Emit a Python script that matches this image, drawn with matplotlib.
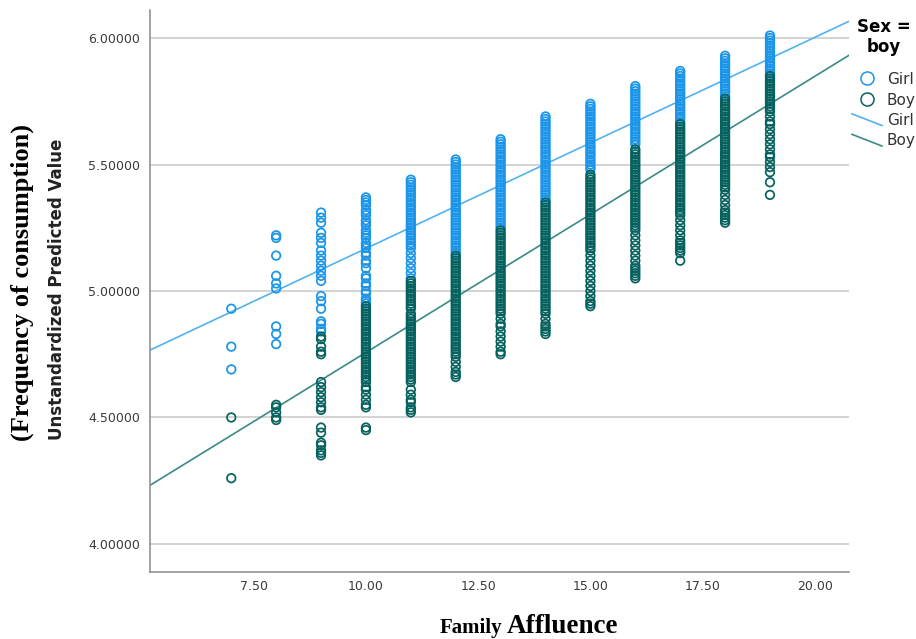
import matplotlib
matplotlib.use("Agg")
import matplotlib.pyplot as plt
from matplotlib.lines import Line2D
from matplotlib.legend_handler import HandlerBase

# ---------------- data ----------------
affluence = [7, 8, 9, 10, 11, 12, 13, 14, 15, 16, 17, 18, 19]

girl_7 = [4.93, 4.78, 4.69]
boy_7 = [4.50, 4.26]
girl_8 = [5.22, 5.21, 5.14, 5.06, 5.03, 5.01, 4.86, 4.83, 4.79]
boy_8 = [4.55, 4.54, 4.52, 4.50, 4.49]
girl_9 = [5.31, 5.29, 5.27, 5.23, 5.21, 5.19, 5.16, 5.14, 5.12, 5.10, 5.08, 5.06, 5.04,
          4.98, 4.96, 4.93, 4.88, 4.87, 4.85, 4.84]
boy_9 = [4.82, 4.81, 4.78, 4.76, 4.75, 4.64, 4.62, 4.60, 4.58, 4.56, 4.54, 4.53, 4.46,
         4.44, 4.40, 4.39, 4.37, 4.36, 4.35]
girl_10 = [5.37, 5.36, 5.35, 5.34, 5.32, 5.31, 5.30, 5.28, 5.27, 5.26, 5.24, 5.23, 5.22,
           5.21, 5.19, 5.18, 5.17, 5.15, 5.14, 5.12, 5.11, 5.09, 5.06, 5.05, 5.03, 5.02,
           5.00, 4.99, 4.97, 4.96, 4.95]
boy_10 = [4.94, 4.93, 4.92, 4.91, 4.90, 4.89, 4.88, 4.87, 4.86, 4.85, 4.84, 4.83, 4.82,
          4.81, 4.80, 4.79, 4.78, 4.77, 4.76, 4.75, 4.74, 4.73, 4.72, 4.71, 4.70, 4.69,
          4.68, 4.67, 4.66, 4.65, 4.64, 4.62, 4.61, 4.59, 4.57, 4.55, 4.54, 4.46, 4.45]
girl_11 = [5.44, 5.43, 5.42, 5.41, 5.40, 5.39, 5.38, 5.37, 5.36, 5.35, 5.34, 5.33, 5.32,
           5.31, 5.30, 5.29, 5.28, 5.27, 5.26, 5.25, 5.24, 5.23, 5.22, 5.21, 5.20, 5.19,
           5.18, 5.17, 5.15, 5.13, 5.11, 5.09, 5.07, 5.05]
boy_11 = [5.04, 5.03, 5.02, 5.01, 5.00, 4.99, 4.98, 4.97, 4.96, 4.95, 4.94, 4.93, 4.91,
          4.90, 4.89, 4.88, 4.87, 4.86, 4.85, 4.84, 4.83, 4.82, 4.81, 4.80, 4.79, 4.78,
          4.77, 4.76, 4.75, 4.74, 4.73, 4.72, 4.71, 4.70, 4.69, 4.68, 4.67, 4.66, 4.65,
          4.64, 4.61, 4.59, 4.57, 4.56, 4.54, 4.53, 4.52]
girl_12 = [5.52, 5.51, 5.50, 5.49, 5.48, 5.47, 5.46, 5.45, 5.44, 5.43, 5.42, 5.41, 5.40,
           5.39, 5.38, 5.37, 5.36, 5.35, 5.34, 5.33, 5.32, 5.31, 5.30, 5.29, 5.28, 5.27,
           5.26, 5.25, 5.24, 5.23, 5.22, 5.21, 5.20, 5.19, 5.18, 5.17, 5.16, 5.15]
boy_12 = [5.14, 5.13, 5.12, 5.11, 5.10, 5.09, 5.08, 5.07, 5.06, 5.05, 5.04, 5.03, 5.02,
          5.01, 5.00, 4.99, 4.98, 4.97, 4.96, 4.95, 4.94, 4.93, 4.92, 4.91, 4.90, 4.89,
          4.88, 4.87, 4.86, 4.85, 4.84, 4.83, 4.82, 4.81, 4.80, 4.79, 4.78, 4.77, 4.76,
          4.75, 4.74, 4.72, 4.70, 4.68, 4.67, 4.66]
girl_13 = [5.60, 5.59, 5.58, 5.57, 5.56, 5.55, 5.54, 5.53, 5.52, 5.51, 5.50, 5.49, 5.48,
           5.47, 5.46, 5.45, 5.44, 5.43, 5.42, 5.41, 5.40, 5.39, 5.38, 5.37, 5.36, 5.35,
           5.34, 5.33, 5.32, 5.31, 5.30, 5.29, 5.28, 5.27, 5.26, 5.25]
boy_13 = [5.24, 5.23, 5.22, 5.21, 5.20, 5.19, 5.18, 5.17, 5.16, 5.15, 5.14, 5.13, 5.12,
          5.11, 5.10, 5.09, 5.08, 5.07, 5.06, 5.05, 5.04, 5.03, 5.02, 5.01, 5.00, 4.99,
          4.98, 4.97, 4.96, 4.95, 4.94, 4.93, 4.92, 4.91, 4.89, 4.87, 4.86, 4.84, 4.82,
          4.80, 4.78, 4.76, 4.75]
girl_14 = [5.69, 5.68, 5.67, 5.66, 5.65, 5.64, 5.63, 5.62, 5.61, 5.60, 5.59, 5.58, 5.57,
           5.56, 5.55, 5.54, 5.53, 5.52, 5.51, 5.50, 5.49, 5.48, 5.47, 5.46, 5.45, 5.44,
           5.43, 5.42, 5.41, 5.40, 5.39, 5.38, 5.37, 5.36]
boy_14 = [5.35, 5.34, 5.33, 5.32, 5.31, 5.30, 5.29, 5.28, 5.27, 5.26, 5.25, 5.24, 5.23,
          5.22, 5.21, 5.20, 5.19, 5.18, 5.17, 5.16, 5.15, 5.14, 5.13, 5.12, 5.11, 5.10,
          5.09, 5.08, 5.07, 5.06, 5.05, 5.04, 5.03, 5.02, 5.01, 5.00, 4.99, 4.98, 4.97,
          4.96, 4.95, 4.94, 4.93, 4.92, 4.91, 4.89, 4.87, 4.86, 4.85, 4.84, 4.83]
girl_15 = [5.74, 5.73, 5.72, 5.71, 5.70, 5.69, 5.68, 5.67, 5.66, 5.65, 5.64, 5.63, 5.62,
           5.61, 5.60, 5.59, 5.58, 5.57, 5.56, 5.55, 5.54, 5.53, 5.52, 5.51, 5.50, 5.49,
           5.48]
boy_15 = [5.46, 5.45, 5.44, 5.43, 5.42, 5.41, 5.40, 5.39, 5.38, 5.37, 5.36, 5.35, 5.34,
          5.33, 5.32, 5.31, 5.30, 5.29, 5.28, 5.27, 5.26, 5.25, 5.24, 5.23, 5.22, 5.21,
          5.20, 5.19, 5.18, 5.17, 5.16, 5.14, 5.12, 5.10, 5.08, 5.06, 5.04, 5.02, 5.00,
          4.98, 4.96, 4.95, 4.94]
girl_16 = [5.81, 5.80, 5.79, 5.78, 5.77, 5.76, 5.75, 5.74, 5.73, 5.72, 5.71, 5.70, 5.69,
           5.68, 5.67, 5.66, 5.65, 5.64, 5.63, 5.62, 5.61, 5.60, 5.59, 5.58]
boy_16 = [5.56, 5.55, 5.54, 5.53, 5.52, 5.51, 5.50, 5.49, 5.48, 5.47, 5.46, 5.45, 5.44,
          5.43, 5.42, 5.41, 5.40, 5.39, 5.38, 5.37, 5.36, 5.35, 5.34, 5.33, 5.32, 5.31,
          5.30, 5.29, 5.28, 5.27, 5.26, 5.25, 5.24, 5.22, 5.20, 5.18, 5.16, 5.14, 5.12,
          5.10, 5.09, 5.08, 5.07, 5.06, 5.05]
girl_17 = [5.87, 5.86, 5.85, 5.84, 5.83, 5.82, 5.81, 5.80, 5.79, 5.78, 5.77, 5.76, 5.75,
           5.74, 5.73, 5.72, 5.71, 5.70, 5.69, 5.68, 5.67]
boy_17 = [5.66, 5.65, 5.64, 5.63, 5.62, 5.61, 5.60, 5.59, 5.58, 5.57, 5.56, 5.55, 5.54,
          5.53, 5.52, 5.51, 5.50, 5.49, 5.48, 5.47, 5.46, 5.45, 5.44, 5.43, 5.42, 5.41,
          5.40, 5.39, 5.38, 5.37, 5.36, 5.35, 5.34, 5.33, 5.32, 5.31, 5.30, 5.28, 5.26,
          5.24, 5.22, 5.20, 5.19, 5.18, 5.17, 5.16, 5.15, 5.12]
girl_18 = [5.93, 5.92, 5.91, 5.90, 5.89, 5.88, 5.87, 5.86, 5.85, 5.84, 5.83, 5.82, 5.81,
           5.80, 5.79, 5.78, 5.77]
boy_18 = [5.76, 5.75, 5.74, 5.73, 5.72, 5.71, 5.70, 5.69, 5.68, 5.67, 5.66, 5.65, 5.64,
          5.63, 5.62, 5.61, 5.60, 5.59, 5.58, 5.57, 5.56, 5.55, 5.54, 5.53, 5.52, 5.51,
          5.50, 5.49, 5.48, 5.47, 5.46, 5.45, 5.44, 5.43, 5.42, 5.41, 5.40, 5.38, 5.36,
          5.34, 5.32, 5.31, 5.30, 5.29, 5.28, 5.27]
girl_19 = [6.01, 6.00, 5.99, 5.98, 5.97, 5.96, 5.95, 5.94, 5.93, 5.92, 5.91, 5.90, 5.89,
           5.88, 5.87, 5.86]
boy_19 = [5.85, 5.84, 5.83, 5.82, 5.81, 5.80, 5.79, 5.78, 5.77, 5.76, 5.75, 5.74, 5.73,
          5.72, 5.71, 5.69, 5.67, 5.66, 5.64, 5.62, 5.60, 5.58, 5.56, 5.54, 5.53, 5.51,
          5.49, 5.47, 5.43, 5.38]

girl_columns = [girl_7, girl_8, girl_9, girl_10, girl_11, girl_12, girl_13,
                girl_14, girl_15, girl_16, girl_17, girl_18, girl_19]
boy_columns = [boy_7, boy_8, boy_9, boy_10, boy_11, boy_12, boy_13,
               boy_14, boy_15, boy_16, boy_17, boy_18, boy_19]

# fit lines: (intercept, slope)
girl_fit = (4.333, 0.0835)
boy_fit = (3.665, 0.1092)

x_ticks = [7.5, 10.0, 12.5, 15.0, 17.5, 20.0]
x_tick_labels = ["7.50", "10.00", "12.50", "15.00", "17.50", "20.00"]
y_ticks = [4.0, 4.5, 5.0, 5.5, 6.0]
y_tick_labels = ["4.00000", "4.50000", "5.00000", "5.50000", "6.00000"]

legend_labels = ["Girl", "Boy"]

# ---------------- style ----------------
GIRL = "#1a95ea"
BOY = "#06625f"
GIRL_LINE = "#52b2ef"
BOY_LINE = "#3b8a86"

W, H = 916, 639
fig = plt.figure(figsize=(W / 100, H / 100), dpi=100)
ax = fig.add_axes([150 / W, 1 - 572 / H, (849 - 150) / W, (572 - 10) / H])

for x, vals in zip(affluence, girl_columns):
    ax.scatter([x] * len(vals), vals, s=38, facecolors="none", edgecolors=GIRL,
               linewidths=1.25, zorder=3)
for x, vals in zip(affluence, boy_columns):
    ax.scatter([x] * len(vals), vals, s=38, facecolors="none", edgecolors=BOY,
               linewidths=1.25, zorder=4)

ax.axline((0, girl_fit[0]), slope=girl_fit[1], color=GIRL_LINE, lw=1.2, zorder=2.5)
ax.axline((0, boy_fit[0]), slope=boy_fit[1], color=BOY_LINE, lw=1.2, zorder=2.5)

ax.set_xlim(5.19, 20.76)
ax.set_ylim(3.889, 6.111)
ax.set_xticks(x_ticks)
ax.set_xticklabels(x_tick_labels)
ax.set_yticks(y_ticks)
ax.set_yticklabels(y_tick_labels)
ax.tick_params(axis="both", length=0, labelsize=9, labelcolor="#3a3a3a")
ax.tick_params(axis="y", pad=7)
ax.tick_params(axis="x", pad=6)
ax.yaxis.grid(True, color="#c8c8c8", lw=1.1)
ax.set_axisbelow(True)
for s in ("top", "right"):
    ax.spines[s].set_visible(False)
for s in ("left", "bottom"):
    ax.spines[s].set_color("#8a8a8a")
    ax.spines[s].set_linewidth(1.1)

# axis titles
fig.text(22 / W, 1 - 283 / H, "(Frequency of consumption)", rotation=90,
         family="Liberation Serif", weight="bold", size=19, ha="center", va="center")
fig.text(57 / W, 1 - 289 / H, "Unstandardized Predicted Value", rotation=90,
         family="DejaVu Sans", weight="bold", size=12, ha="center", va="center",
         color="#222222")
fig.text(502 / W, 1 - 633 / H, "Family", family="Liberation Serif", weight="bold",
         size=15, ha="right", va="baseline")
fig.text(507 / W, 1 - 633 / H, "Affluence", family="Liberation Serif", weight="bold",
         size=19.5, ha="left", va="baseline")

# legend
fig.text(884 / W, 1 - 37 / H, "Sex =\nboy", family="DejaVu Sans", weight="bold",
         size=12, ha="center", va="center", ma="center", linespacing=1.2)


class DiagHandler(HandlerBase):
    def create_artists(self, legend, orig_handle, xdescent, ydescent, width, height,
                       fontsize, trans):
        ln = Line2D([-xdescent, -xdescent + width], [-ydescent + height, -ydescent],
                    color=orig_handle.get_color(), lw=orig_handle.get_linewidth())
        ln.set_transform(trans)
        return [ln]


h_girl_pt = Line2D([], [], ls="none", marker="o", mfc="none", mec=GIRL, ms=9.4, mew=1.1)
h_boy_pt = Line2D([], [], ls="none", marker="o", mfc="none", mec=BOY, ms=9.4, mew=1.1)
h_girl_ln = Line2D([], [], color=GIRL_LINE, lw=1.2)
h_boy_ln = Line2D([], [], color=BOY_LINE, lw=1.2)
leg = ax.legend([h_girl_pt, h_boy_pt, h_girl_ln, h_boy_ln],
                legend_labels + legend_labels,
                handler_map={h_girl_ln: DiagHandler(), h_boy_ln: DiagHandler()},
                loc="upper left", bbox_to_anchor=(852 / W, 1 - 72 / H),
                bbox_transform=fig.transFigure, frameon=False, borderpad=0,
                borderaxespad=0, handlelength=1.96, handleheight=0.8,
                handletextpad=0.33, labelspacing=0.36, fontsize=11)
for t in leg.get_texts():
    t.set_color("#333333")
leg.set_clip_on(False)

fig.savefig("out.png", dpi=100)
